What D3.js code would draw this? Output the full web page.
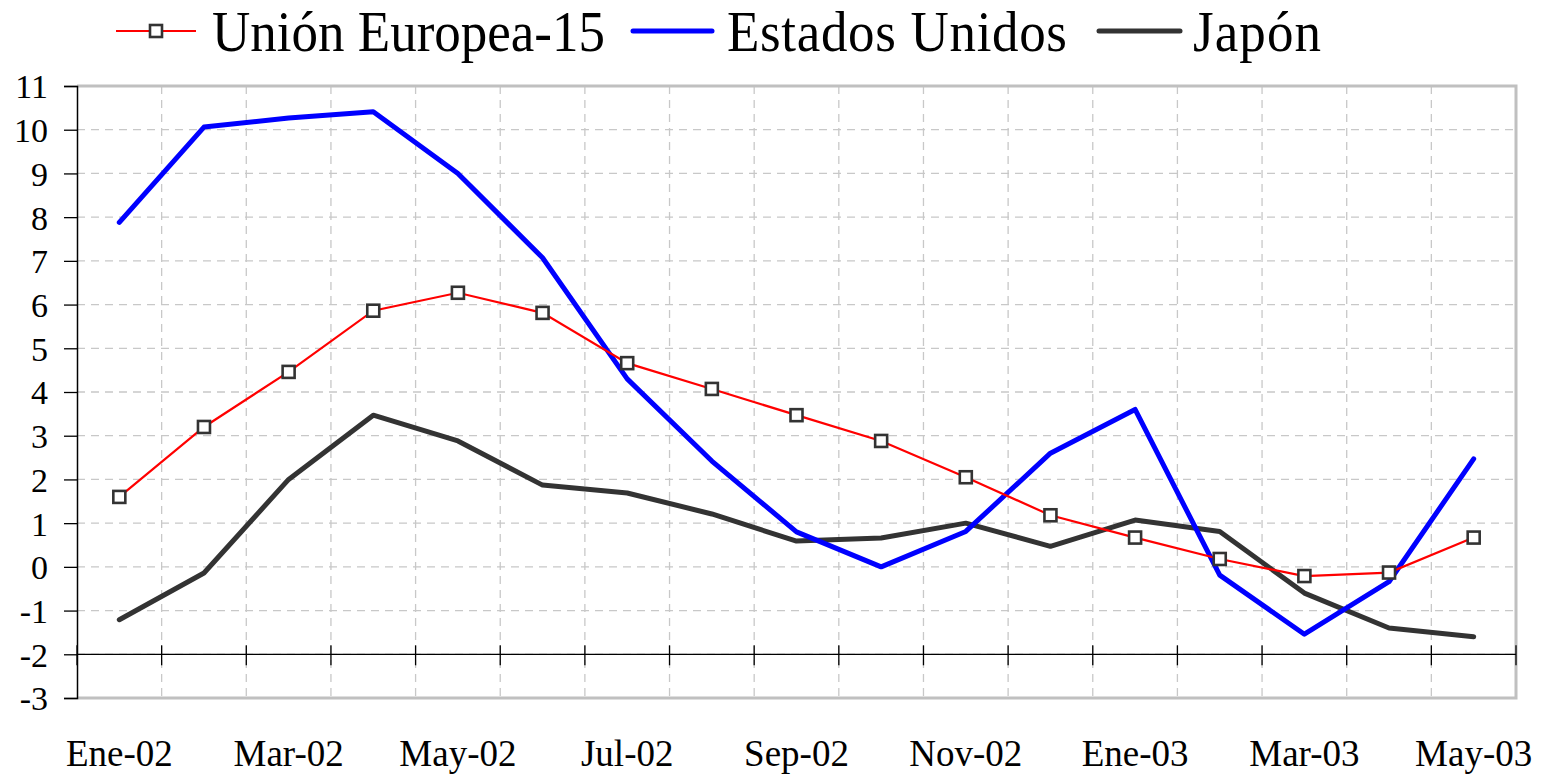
<!DOCTYPE html>
<html><head><meta charset="utf-8">
<script src="https://cdn.jsdelivr.net/npm/d3@7"></script>
<style>body{margin:0;background:#fff}svg{display:block}</style>
</head><body>
<svg id="c" width="1541" height="777"></svg>
<script>
const categories = ["Ene-02","Feb-02","Mar-02","Abr-02","May-02","Jun-02","Jul-02","Ago-02","Sep-02","Oct-02","Nov-02","Dic-02","Ene-03","Feb-03","Mar-03","Abr-03","May-03"];
const shownLabels = ["Ene-02","Mar-02","May-02","Jul-02","Sep-02","Nov-02","Ene-03","Mar-03","May-03"];
const ue15 = [1.6,3.2,4.46,5.86,6.27,5.81,4.66,4.07,3.47,2.88,2.05,1.18,0.67,0.18,-0.21,-0.13,0.67];
const eeuu = [7.88,10.06,10.27,10.41,9.0,7.07,4.3,2.42,0.8,0.0,0.81,2.6,3.6,-0.19,-1.54,-0.34,2.47];
const japon = [-1.21,-0.14,2.0,3.47,2.88,1.87,1.69,1.21,0.59,0.66,1.0,0.47,1.07,0.81,-0.6,-1.4,-1.6];
const yTicks = [-3,-2,-1,0,1,2,3,4,5,6,7,8,9,10,11];
const seriesNames = ["Unión Europea-15","Estados Unidos","Japón"];

const svg = d3.select("#c");
const font = "'Liberation Serif','Times New Roman',serif";
const L=77, R=1516, T=86, B=698;
const x = d3.scaleBand().domain(categories).range([L,R]).padding(0);
const bw = x.bandwidth();
const cx = c => x(c)+bw/2;
const y = d3.scaleLinear().domain([-3,11]).range([B,T]);

// gridlines
const g = svg.append("g");
g.selectAll("line.h").data(yTicks.filter(v=>v>-3&&v<11)).enter().append("line")
 .attr("x1",L).attr("x2",R).attr("y1",d=>y(d)).attr("y2",d=>y(d))
 .attr("stroke","#c8c8c8").attr("stroke-width",1.3).attr("stroke-dasharray","8,6");
g.selectAll("line.v").data(categories.slice(1)).enter().append("line")
 .attr("x1",d=>x(d)).attr("x2",d=>x(d)).attr("y1",T).attr("y2",B)
 .attr("stroke","#c8c8c8").attr("stroke-width",1.3).attr("stroke-dasharray","8,6");

// frame
svg.append("path").attr("d",`M${L},${T}H${R}V${B}H${L}`).attr("fill","none")
 .attr("stroke","#c0c0c0").attr("stroke-width",3);

// y axis
const yAxis = d3.axisLeft(y).tickValues(yTicks).tickSize(13).tickPadding(16).tickFormat(d => String(d));
const ya = svg.append("g").attr("transform",`translate(${L},0)`).call(yAxis);
ya.select(".domain").attr("stroke","#000").attr("stroke-width",1.5);
ya.selectAll(".tick line").attr("stroke","#000").attr("stroke-width",1.3);
ya.selectAll("text").attr("font-family",font).attr("font-size",34).attr("fill","#000").attr("dy","0.35em");

// x axis at y=-2
const y0 = y(-2);
svg.append("line").attr("x1",L).attr("x2",R).attr("y1",y0).attr("y2",y0).attr("stroke","#000").attr("stroke-width",1.3);
const bounds = categories.map(c=>x(c)).concat([R]);
svg.selectAll("line.xt").data(bounds).enter().append("line")
 .attr("x1",d=>d).attr("x2",d=>d).attr("y1",y0-9).attr("y2",y0+11)
 .attr("stroke","#000").attr("stroke-width",1.3);
svg.selectAll("text.xl").data(shownLabels).enter().append("text")
 .attr("x",d=>cx(d)).attr("y",766).attr("text-anchor","middle")
 .attr("font-family",font).attr("font-size",37).attr("fill","#000").text(d=>d);

// lines
const line = arr => d3.line().x((d,i)=>cx(categories[i])).y(d=>y(d))(arr);
svg.append("path").attr("d",line(japon)).attr("fill","none").attr("stroke","#333333").attr("stroke-width",5).attr("stroke-linejoin","round").attr("stroke-linecap","round");
svg.append("path").attr("d",line(eeuu)).attr("fill","none").attr("stroke","#0000ff").attr("stroke-width",5).attr("stroke-linejoin","round").attr("stroke-linecap","round");
svg.append("path").attr("d",line(ue15)).attr("fill","none").attr("stroke","#ff0000").attr("stroke-width",2.2);
svg.selectAll("rect.m").data(ue15).enter().append("rect")
 .attr("x",(d,i)=>cx(categories[i])-6).attr("y",d=>y(d)-6).attr("width",12).attr("height",12)
 .attr("fill","#fff").attr("stroke","#333").attr("stroke-width",2.6);

// legend
const leg = svg.append("g");
const ly = 31;
leg.append("line").attr("x1",116).attr("x2",196).attr("y1",ly).attr("y2",ly).attr("stroke","#ff0000").attr("stroke-width",2.2);
leg.append("rect").attr("x",150).attr("y",ly-6).attr("width",12).attr("height",12).attr("fill","#fff").attr("stroke","#333").attr("stroke-width",2.6);
leg.append("line").attr("x1",633).attr("x2",712).attr("y1",ly).attr("y2",ly).attr("stroke","#0000ff").attr("stroke-width",5).attr("stroke-linecap","round");
leg.append("line").attr("x1",1099).attr("x2",1180).attr("y1",ly).attr("y2",ly).attr("stroke","#333333").attr("stroke-width",5).attr("stroke-linecap","round");
const legX = [212,727,1193];
const legW = [393,340,128];
seriesNames.forEach((n,i)=>{
  leg.append("text").attr("transform",`translate(${legX[i]},51) scale(1,1.07)`)
   .attr("font-family",font).attr("font-size",53).attr("fill","#000")
   .attr("textLength",legW[i]).attr("lengthAdjust","spacing").text(n);
});
</script>
</body></html>
